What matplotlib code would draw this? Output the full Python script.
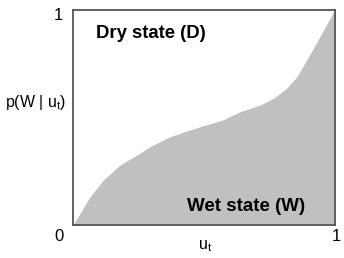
import matplotlib.pyplot as plt

# curve: p(W | u_t)
u = [0.0, 0.029, 0.067, 0.117, 0.181, 0.245, 0.295, 0.371, 0.430, 0.474, 0.573, 0.638,
     0.714, 0.765, 0.816, 0.854, 0.892, 0.935, 0.992, 1.0]
p = [0.0, 0.057, 0.134, 0.211, 0.281, 0.327, 0.366, 0.412, 0.437, 0.454, 0.490, 0.528,
     0.559, 0.590, 0.637, 0.690, 0.768, 0.861, 0.986, 1.0]

plt.rcParams['font.family'] = ['Liberation Sans', 'DejaVu Sans']

fig = plt.figure(figsize=(3.44, 2.58), dpi=100)
ax = fig.add_axes([0.211, 0.126, 0.763, 0.835])

ax.fill_between(u, 0, p, color="#c0c0c0", linewidth=0)
ax.set_xlim(0, 1)
ax.set_ylim(0, 1)
ax.set_xticks([])
ax.set_yticks([])
for s in ax.spines.values():
    s.set_color("#555555")
    s.set_linewidth(1.3)

# corner labels
ax.text(-0.051, -0.053, "0", transform=ax.transAxes, ha="center", va="center", fontsize=12)
ax.text(-0.055, 0.977, "1", transform=ax.transAxes, ha="center", va="center", fontsize=12)
ax.text(1.022, -0.053, "1", transform=ax.transAxes, ha="right", va="center", fontsize=12)

ax.text(-0.14, 0.573, r"p(W | u$_\mathregular{t}$)", transform=ax.transAxes,
        ha="center", va="center", fontsize=11.5)
ax.text(0.505, -0.095, r"u$_\mathregular{t}$", transform=ax.transAxes,
        ha="center", va="center", fontsize=11.5)

ax.text(0.0895, 0.893, "Dry state (D)", transform=ax.transAxes, ha="left", va="center",
        fontsize=13.3, fontweight="bold")
ax.text(0.436, 0.086, "Wet state (W)", transform=ax.transAxes, ha="left", va="center",
        fontsize=13.5, fontweight="bold")

fig.savefig("out.png", dpi=100)
